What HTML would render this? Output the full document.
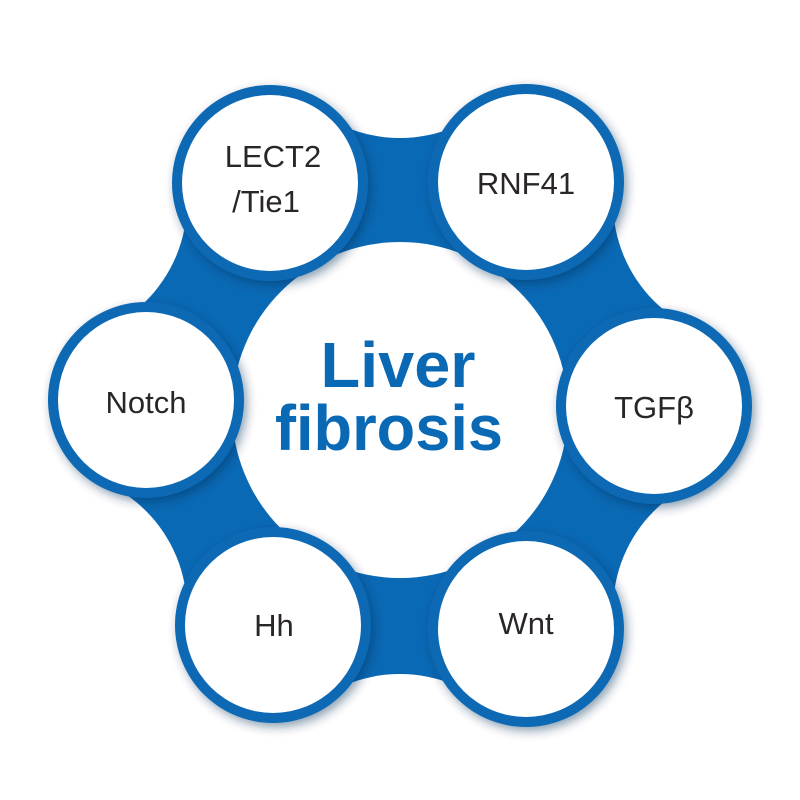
<!DOCTYPE html>
<html><head><meta charset="utf-8"><style>html,body{margin:0;padding:0;background:#fff;width:800px;height:800px;overflow:hidden}svg{display:block}</style></head>
<body>
<svg width="800" height="800" viewBox="0 0 800 800" xmlns="http://www.w3.org/2000/svg">
<defs>
<filter id="sh" x="-20%" y="-20%" width="140%" height="140%"><feDropShadow dx="3" dy="4" stdDeviation="5" flood-color="#002a55" flood-opacity="0.45"/></filter>
</defs>
<circle cx="400" cy="406" r="300" fill="#0a69b4"/>
<g fill="#fff">
<circle cx="400" cy="-2" r="140"/>
<circle cx="753" cy="202" r="140"/>
<circle cx="753" cy="610" r="140"/>
<circle cx="400" cy="814" r="140"/>
<circle cx="47" cy="610" r="140"/>
<circle cx="47" cy="202" r="140"/>
<circle cx="400" cy="410" r="168"/>
</g>
<g fill="#0a69b4" filter="url(#sh)">
<circle cx="270" cy="183" r="98"/><circle cx="526" cy="182" r="98"/><circle cx="654" cy="406" r="98"/>
<circle cx="526" cy="629" r="98"/><circle cx="273" cy="625" r="98"/><circle cx="146" cy="400" r="98"/>
</g>
<g fill="#fff">
<circle cx="270" cy="183" r="88"/><circle cx="526" cy="182" r="88"/><circle cx="654" cy="406" r="88"/>
<circle cx="526" cy="629" r="88"/><circle cx="273" cy="625" r="88"/><circle cx="146" cy="400" r="88"/>
</g>
<g font-family="Liberation Sans, sans-serif" font-size="31" fill="#2a2627" text-anchor="middle">
<text x="273" y="167">LECT2</text>
<text x="266" y="212">/Tie1</text>
<text x="526" y="194">RNF41</text>
<text x="654" y="418">TGFβ</text>
<text x="146" y="413">Notch</text>
<text x="274" y="636">Hh</text>
<text x="526" y="634">Wnt</text>
</g>
<g font-family="Liberation Sans, sans-serif" font-weight="bold" font-size="64" fill="#0a69b4" text-anchor="middle">
<text x="398" y="387" textLength="155" lengthAdjust="spacingAndGlyphs">Liver</text>
<text x="389" y="450" textLength="228" lengthAdjust="spacingAndGlyphs">fibrosis</text>
</g>
</svg>
</body></html>
